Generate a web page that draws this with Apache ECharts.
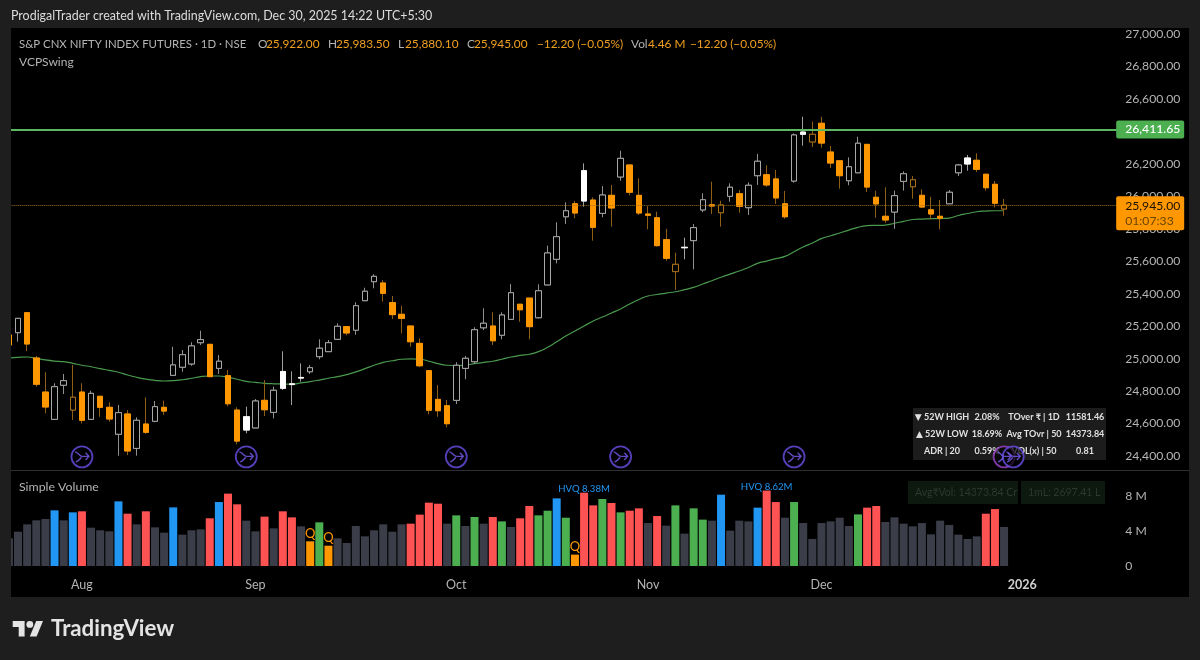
<!DOCTYPE html>
<html><head><meta charset="utf-8"><style>html,body{margin:0;padding:0;background:#1e1e1e}#c{width:1200px;height:660px}</style>
<script src="https://cdn.jsdelivr.net/npm/echarts@6/dist/echarts.min.js"></script></head>
<body><div id="c"></div><script>
const dates=['Jul 22','Jul 23','Jul 24','Jul 25','Jul 28','Jul 29','Jul 30','Jul 31',
'Aug 1','Aug 4','Aug 5','Aug 6','Aug 7','Aug 8','Aug 11','Aug 12','Aug 13','Aug 14','Aug 18','Aug 19','Aug 20','Aug 21','Aug 22','Aug 25','Aug 26','Aug 28','Aug 29',
'Sep 1','Sep 2','Sep 3','Sep 4','Sep 5','Sep 8','Sep 9','Sep 10','Sep 11','Sep 12','Sep 15','Sep 16','Sep 17','Sep 18','Sep 19','Sep 22','Sep 23','Sep 24','Sep 25','Sep 26','Sep 29','Sep 30',
'Oct 1','Oct 3','Oct 6','Oct 7','Oct 8','Oct 9','Oct 10','Oct 13','Oct 14','Oct 15','Oct 16','Oct 17','Oct 20','Oct 21','Oct 23','Oct 24','Oct 27','Oct 28','Oct 29','Oct 30','Oct 31',
'Nov 3','Nov 4','Nov 6','Nov 7','Nov 10','Nov 11','Nov 12','Nov 13','Nov 14','Nov 17','Nov 18','Nov 19','Nov 20','Nov 21','Nov 24','Nov 25','Nov 26','Nov 27','Nov 28',
'Dec 1','Dec 2','Dec 3','Dec 4','Dec 5','Dec 8','Dec 9','Dec 10','Dec 11','Dec 12','Dec 15','Dec 16','Dec 17','Dec 18','Dec 19','Dec 22','Dec 23','Dec 24','Dec 26','Dec 29','Dec 30','Dec 31',
'Jan 1','Jan 2','Jan 5','Jan 6','Jan 7','Jan 8','Jan 9','Jan 12','Jan 13','Jan 14','Jan 15'];
const monthTicks={'Aug 1':'Aug','Sep 1':'Sep','Oct 1':'Oct','Nov 3':'Nov','Dec 1':'Dec','Jan 1':'2026'};
const opens=[25146,25160,25283,25004,24794,24626,24836,24683,24794,24626,
24768,24700,24534,24659,24447,24597,24614,24700,24897,24947,
24967,25098,25088,24940,24895,24683,24642,24573,24743,24669,
24921,24845,24884,24919,25012,25043,25119,25197,25175,25357,
25474,25466,25345,25273,25201,25094,24926,24749,24710,24743,
24940,24981,25190,25201,25144,25242,25335,25373,25252,25454,
25612,25874,25954,26158,25977,25895,26006,26119,26193,26006,
25891,25868,25733,25536,25686,25727,25916,25948,25899,26000,
26016,25930,26127,26133,26107,25954,26094,26396,26335,26450,
26273,26219,26096,26145,26320,25994,25877,25903,26092,26059,
26006,25917,25877,25954,26145,26236,26222,26136,26074,25922];
const highs=[25158,25250,25283,25016,24916,24848,24905,24961,24848,24802,
24770,24731,24714,24683,24638,24762,24739,24741,25073,25053,
25101,25172,25090,25022,24930,24700,24704,24751,24868,24827,
25045,24922,24971,24961,25119,25115,25218,25197,25347,25437,
25520,25484,25386,25326,25201,25125,24926,24837,24745,24977,
25016,25193,25310,25285,25285,25460,25335,25373,25458,25696,
25840,25963,25971,26203,25994,26063,26070,26281,26193,26111,
25940,25905,25799,25653,25745,25829,26019,26090,25973,26080,
26039,26086,26261,26191,26162,26033,26388,26490,26460,26490,
26310,26219,26240,26367,26320,26035,26055,26035,26154,26125,
26043,25997,25977,26039,26199,26255,26265,26136,26094,25983.5];
const lows=[25072,25104,25047,24827,24663,24626,24782,24622,24601,24622,
24642,24611,24402,24406,24402,24536,24608,24653,24897,24919,
24956,25084,24885,24905,24706,24472,24540,24573,24646,24632,
24807,24714,24858,24905,24996,25041,25119,25144,25147,25357,
25433,25351,25244,25156,25073,24947,24657,24642,24577,24720,
24873,24967,25176,25084,25119,25242,25227,25119,25248,25454,
25587,25829,25865,25936,25727,25871,25813,26096,26006,25885,
25797,25690,25603,25423,25612,25550,25902,25891,25813,25967,
25899,25885,26070,26059,25953,25862,26084,26312,26304,26300,
26174,26047,26068,26145,26027,25868,25837,25800,26035,25985,
25929,25858,25797,25953,26125,26158,26150,26035,25932,25880.1];
const closes=[25084,25248,25090,24842,24702,24827,24864,24762,24620,24786,
24700,24628,24667,24431,24620,24546,24704,24677,24961,25024,
25078,25117,24889,24984,24722,24492,24560,24739,24685,24805,
24817,24840,24880,24944,25064,25098,25199,25158,25326,25415,
25507,25402,25271,25248,25104,24956,24682,24679,24599,24959,
25002,25178,25218,25110,25269,25406,25301,25197,25418,25651,
25751,25911,25897,25971,25809,26008,25928,26234,26025,25897,
25883,25696,25618,25581,25683,25807,25979,25940,25946.5,26056,
25938,26068,26216,26070,25990,25874,26378,26382,26382,26328,
26205,26127,26182,26327,26057,25953,25854,26004,26139,26102,
25934,25891,25865,26025,26193,26199,26166,26053,25957.2,25945];
const candleKinds=['F','H','F','F','F','H','H','O','F','H',
'F','F','H','F','H','F','H','F','H','H',
'H','H','F','H','F','F','W','H','F','H',
'W','W','W','H','H','H','H','F','H','H',
'H','F','F','F','F','F','F','F','F','H',
'H','H','H','F','H','H','F','F','H','H',
'H','H','F','W','F','H','F','H','F','F',
'F','F','F','O','W','H','H','F','O','H',
'F','H','H','F','F','F','H','W','O','F',
'F','F','H','H','F','F','F','H','H','O',
'F','F','F','H','H','W','F','F','F','O'];
const ma50=[25004,25008,25010,25002,24992,24985,24981,24971,24959,24950,
24938,24928,24916,24899,24885,24874,24866,24862,24864,24870,
24879,24889,24893,24893,24885,24873,24860,24854,24848,24845,
24844,24842,24850,24858,24868,24879,24889,24901,24918,24938,
24959,24977,24987,24996,24998,24996,24984,24969,24959,24956,
24961,24969,24977,24984,24996,25010,25020,25027,25043,25070,
25104,25139,25170,25201,25232,25256,25281,25306,25336,25364,
25386,25395,25404,25412,25425,25439,25460,25480,25501,25521,
25540,25561,25587,25601,25616,25630,25659,25688,25712,25739,
25757,25774,25792,25809,25819,25821,25823,25834,25846,25857,
25860,25862,25863,25866,25882,25894,25905,25909,25911,25911];
const volumes=[3.16,3.92,4.76,5.22,5.37,6.36,5.22,6.13,6.25,4.38,
4.08,3.96,7.39,5.98,4.76,6.25,4.42,3.81,6.70,3.58,
4.08,4.19,5.45,7.31,8.27,7.05,5.18,3.96,5.64,4.30,
6.25,5.56,4.53,2.82,4.99,2.32,3.16,2.63,4.57,3.39,
4.08,4.76,3.92,4.76,4.84,5.87,7.24,7.12,4.84,5.79,
4.57,5.60,4.84,5.60,5.10,4.46,5.45,6.86,5.79,6.32,
7.73,5.52,1.30,8.38,6.93,7.66,7.20,6.13,6.32,6.59,
4.91,5.71,4.61,6.93,3.70,6.59,5.30,5.18,8.15,4.04,
5.18,5.10,6.67,8.62,7.31,5.52,7.31,4.91,3.09,4.91,
5.10,5.52,4.57,5.90,6.67,6.86,5.03,5.56,4.84,4.53,
4.91,3.62,5.18,4.69,3.58,3.09,3.39,5.98,6.51,4.46];
const volumeKinds=['g','g','g','g','g','b','g','b','r','g',
'g','g','b','r','g','r','g','g','b','g',
'g','g','r','b','r','r','g','g','r','g',
'r','r','g','o','n','o','g','g','g','g',
'g','g','g','g','r','r','r','r','g','n',
'g','n','g','r','n','g','r','r','n','n',
'b','n','o','r','r','n','r','n','r','r',
'g','r','g','n','g','n','n','g','b','g',
'g','g','b','r','r','g','n','g','g','g',
'g','g','g','n','r','r','g','g','g','g',
'g','g','g','g','g','g','g','r','r','g'];
const volumeNotes={33:'Q',35:'Q',62:'Q',63:'HVQ 8.38M',83:'HVQ 8.62M'};
const eventDays=['Aug 1','Aug 29','Oct 1','Oct 29','Nov 26','Dec 30','Dec 31'];
const eventLevel=24395;
const resistance=26411.65;
const lastClose=25945;
const lastCloseText='25,945.00', countdown='01:07:33';
const statRows=[['▼ 52W HIGH','2.08%','TOver ₹ | 1D','11581.46'],['▲ 52W LOW','18.69%','Avg TOvr | 50','14373.84'],['ADR | 20','0.59%','VOL(x) | 50','0.81']];

const FONT='Lato, "DejaVu Sans"';
const candleStyle={
 H:{fill:'#000',border:'#a8a8a8',wick:'#909090'},
 O:{fill:'#000',border:'#a8701a',wick:'#8d6016'},
 F:{fill:'#ff9800',border:'#ff9800',wick:'#8d6016'},
 W:{fill:'#fff',border:'#fff',wick:'#a0a0a0'}};
const volumeColor={g:'#3b3e49',b:'#2196f3',r:'#ff5252',n:'#4caf50',o:'#ff9800'};
const wickData=opens.map((o,i)=>{const s=candleStyle[candleKinds[i]];return{value:[o,closes[i],lows[i],highs[i]],
 itemStyle:{color:'transparent',color0:'transparent',borderColor:s.wick,borderColor0:s.wick,borderWidth:1}}});
const bodyData=opens.map((o,i)=>{const s=candleStyle[candleKinds[i]],c=closes[i];return{value:[o,c,Math.min(o,c),Math.max(o,c)],
 itemStyle:{color:s.fill,color0:s.fill,borderColor:s.border,borderColor0:s.border,borderWidth:1}}});
const volData=volumes.map((v,i)=>{const n=volumeNotes[i];return{value:v,itemStyle:{color:volumeColor[volumeKinds[i]]},
 label:n?{show:true,position:'top',distance:n==='Q'?1:-1,formatter:n,color:n==='Q'?'#ff9800':'#2196f3',fontFamily:FONT,fontSize:n==='Q'?13:9.6}:{show:false}}});

function T(x,y,text,fill,size,o){return Object.assign({type:'text',z:60,x,y,silent:true,style:Object.assign({text,fill,fontFamily:FONT,fontSize:size||12,verticalAlign:'middle',align:'left'},o||{})})}
function R(x,y,w,h,fill,z){return{type:'rect',z:z==null?1:z,silent:true,shape:{x,y,width:w,height:h},style:{fill}}}
const grey='#b4b4b4',ora='#f0a020',hs=11.85;
const graphic=[
 R(11,28,1178,569,'#000',-1),
 R(0,0,11,660,'#1e1e1e',90),
 R(1189,0,11,660,'#1e1e1e',90),
 R(11,470,1178,1,'#2f2f2f',3),
 T(11,16,'ProdigalTrader created with TradingView.com, Dec 30, 2025 14:22 UTC+5:30','#dcdcdc',12.45),
 T(19,44,'S&P CNX NIFTY INDEX FUTURES · 1D · NSE',grey,11.4),
 T(258,44,'O',grey,hs),T(266,44,'25,922.00',ora,hs),
 T(328,44,'H',grey,hs),T(336,44,'25,983.50',ora,hs),
 T(398,44,'L',grey,hs),T(405,44,'25,880.10',ora,hs),
 T(467,44,'C',grey,hs),T(474,44,'25,945.00',ora,hs),
 T(537,44,'−12.20 (−0.05%)',ora,hs),
 T(631,44,'Vol',grey,hs),T(648,44,'4.46 M',ora,hs),
 T(690,44,'−12.20 (−0.05%)',ora,hs),
 T(19,62,'VCPSwing',grey,12),
 T(19,487,'Simple Volume',grey,12.3),
 R(913,408,193,52,'#1c1c1c',1),
 R(908,481,110,23,'#0d180e',1),
 R(1021,481,84,23,'#0d180e',1),
 T(915,493,'Avg₹Vol: 14373.84 Cr','#2c3a2d',10.5,{}),
 T(1028,493,'1mL: 2697.41 L','#2c3a2d',10.5,{}),
 {type:'polygon',z:60,silent:true,shape:{points:[[12.7,621],[24.6,621],[24.6,636.4],[18.7,636.4],[18.7,627],[12.7,627]]},style:{fill:'#e4e4e4'}},
 {type:'polygon',z:60,silent:true,shape:{points:[[36.2,621],[43,621],[36.6,636.4],[29.8,636.4]]},style:{fill:'#e4e4e4'}},
 {type:'circle',z:60,silent:true,shape:{cx:29.8,cy:624.4,r:3.4},style:{fill:'#e4e4e4'}},
 T(51,629,'TradingView','#e4e4e4',22.3,{fontWeight:700})
];
const colX=[942,987,1034,1085],rowY=[417,434,451];
statRows.forEach((row,r)=>row.forEach((t,c)=>graphic.push(Object.assign(T(colX[c],rowY[r],t,'#e0e0e0',9,{align:'center',fontWeight:700}),{z:1}))));

const arrowPath='path://M1 3C5 3 6 8 10 8L18 8M14 4L18 8L14 12M2 14C5 14 7 11 9 9';
const eventPts=eventDays.map(d=>[d,eventLevel]);
const option={
 animation:false,backgroundColor:'#1e1e1e',textStyle:{fontFamily:FONT},
 graphic:{elements:graphic},
 grid:[{left:4.33,width:1113.86,top:1.54,height:486.93},{left:4.33,width:1113.86,top:461,height:105}],
 xAxis:[
  {type:'category',gridIndex:0,data:dates,boundaryGap:true,axisLine:{show:false},axisTick:{show:false},axisLabel:{show:false},splitLine:{show:false}},
  {type:'category',gridIndex:1,data:dates,boundaryGap:true,axisLine:{show:false},axisTick:{show:false},splitLine:{show:false},
   axisLabel:{margin:12,color:grey,fontFamily:FONT,fontSize:12.5,interval:(i,v)=>!!monthTicks[v],hideOverlap:false,
    formatter:v=>{const m=monthTicks[v]||'';return m==='2026'?'{y|2026}':m},rich:{y:{color:'#d0d0d0',fontWeight:'bold',fontSize:12.5,fontFamily:FONT}}}}],
 yAxis:[
  {type:'value',gridIndex:0,position:'right',min:24200,max:27200,interval:200,axisLine:{show:false},axisTick:{show:false},splitLine:{show:false},
   axisLabel:{margin:7,color:grey,fontFamily:FONT,fontSize:12.2,formatter:v=>(v<24400||v>27000)?'':v.toLocaleString('en-US',{minimumFractionDigits:2})}},
  {type:'value',gridIndex:1,position:'right',min:0,max:12,interval:4,axisLine:{show:false},axisTick:{show:false},splitLine:{show:false},
   axisLabel:{margin:7,color:grey,fontFamily:FONT,fontSize:12.2,formatter:v=>v===0?'0':(v>8?'':v+' M')}}],
 series:[
  {name:'MA',type:'line',xAxisIndex:0,yAxisIndex:0,data:ma50,symbol:'none',smooth:true,z:2,lineStyle:{color:'#4a9a4e',width:1.2},
   markLine:{silent:true,symbol:'none',animation:false,data:[
    {yAxis:resistance,lineStyle:{color:'#5cb860',width:2,type:'solid'},
     label:{show:true,position:'end',distance:-2,formatter:'26,411.65',color:'#fff',backgroundColor:'#4caf50',borderRadius:2,padding:[3,0,3,9],width:59,fontFamily:FONT,fontSize:12.2,fontWeight:500}},
    {yAxis:lastClose,lineStyle:{color:'#a06c14',width:1,type:'dotted'},
     label:{show:true,position:'end',distance:-2,offset:[0,8],formatter:'{a|'+lastCloseText+'}\n{b|'+countdown+'}',backgroundColor:'#ff9800',borderRadius:2,padding:[2,0,2,9],width:59,
      rich:{a:{color:'#1a1000',fontFamily:FONT,fontSize:12.2,lineHeight:15,width:59},b:{color:'#6b4400',fontFamily:FONT,fontSize:12.2,lineHeight:15,width:59}}}}]}},
  {name:'wick',type:'candlestick',xAxisIndex:0,yAxisIndex:0,barWidth:6,z:3,data:wickData},
  {name:'body',type:'candlestick',xAxisIndex:0,yAxisIndex:0,barWidth:6,z:4,data:bodyData},
  {name:'events',type:'scatter',xAxisIndex:0,yAxisIndex:0,symbol:'circle',symbolSize:21,z:5,data:eventPts.map((p,i)=>({value:p,itemStyle:{color:'rgba(0,0,0,.85)',borderColor:i===5?'#9a44c8':'#6a4ee6',borderWidth:1.8}}))},
  {name:'eventArrows',type:'scatter',xAxisIndex:0,yAxisIndex:0,symbol:arrowPath,symbolSize:[14,10],z:6,data:eventPts,itemStyle:{color:'transparent',borderColor:'#7a5cf0',borderWidth:1.4}},
  {name:'vol',type:'bar',xAxisIndex:1,yAxisIndex:1,barWidth:8,z:2,data:volData}
 ]};
const chart=echarts.init(document.getElementById('c'),null,{renderer:'canvas',width:1200,height:660});
chart.setOption(option);
</script></body></html>
